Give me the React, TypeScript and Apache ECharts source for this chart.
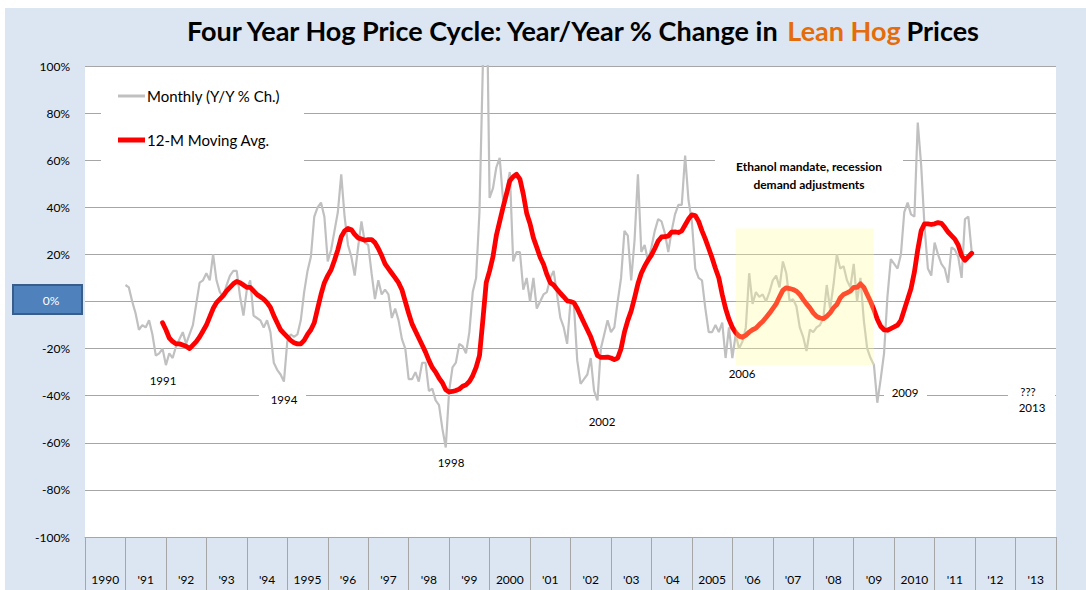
import React, { useEffect, useRef } from "react";
import * as echarts from "echarts";

// Category (year) labels along the bottom axis
const yearLabels = [
  "1990", "'91", "'92", "'93", "'94", "1995", "'96", "'97", "'98", "'99",
  "2000", "'01", "'02", "'03", "'04", "2005", "'06", "'07", "'08", "'09",
  "2010", "'11", "'12", "'13",
];
const firstYear = 1990;

// Monthly Y/Y % change in lean hog prices, Jan 1991 .. Dec 2011
const monthlyStart = "1991-01";
const monthlyYoY = [
  7, 6, 0, -5, -12, -10, -11, -8, -14, -23, -22, -20, // 1991
  -27, -22, -24, -19, -16, -13, -18, -14, -10, -1, 8, 9, // 1992
  12, 9, 20, 9, 4, 2, 7, 11, 13, 13, 2, -6, // 1993
  5, 9, -6, -7, -8, -11, -8, -13, -26, -29, -31, -34, // 1994
  -17, -14, -15, -14, -8, 4, 13, 19, 36, 40, 42, 36, // 1995
  17, 22, 30, 38, 54, 36, 24, 19, 11, 23, 34, 25, // 1996
  24, 12, 1, 9, 3, 5, 3, -7, -3, -8, -16, -20, // 1997
  -33, -33, -30, -34, -26, -26, -38, -37, -42, -44, -54, -62, // 1998
  -38, -28, -26, -18, -19, -22, -13, 4, 10, 38, 100, 150, // 1999
  44, 48, 57, 61, 43, 47, 55, 17, 21, 21, 5, 10, // 2000
  0, 10, -3, 0, 3, 4, 10, 13, 3, -7, -11, -18, // 2001
  0, -1, -25, -35, -33, -31, -24, -38, -42, -20, -14, -8, // 2002
  -13, -11, 0, 10, 30, 28, 9, 26, 54, 21, 24, 17, // 2003
  23, 30, 35, 34, 29, 21, 30, 37, 41, 41, 62, 43, // 2004
  34, 14, 10, 9, -3, -13, -13, -10, -13, -9, -24, -11, // 2005
  -24, -14, -20, -17, -11, 12, -1, 4, 2, 3, 0, 4, // 2006
  9, 11, 6, 17, 12, 0, 1, -2, -11, -15, -21, -12, // 2007
  -13, -11, -10, -7, 7, -3, 7, 20, 14, 15, 9, 6, // 2008
  16, 0, 10, -8, -20, -24, -27, -43, -33, -22, 2, 18, // 2009
  16, 14, 20, 38, 42, 37, 36, 76, 58, 32, 14, 11, // 2010
  25, 20, 16, 14, 8, 23, 22, 19, 10, 35, 36, 21, // 2011
];

// 12-month moving average, Dec 1991 .. Dec 2011
const movingAvgStart = "1991-12";
const movingAvg12 = [
  -9, // Dec 1991
  -12, -15.5, -17, -18, -18, -18.5, -19, -20, -18.5, -17, -15, -12.5, // 1992
  -10, -6.5, -3, -0.5, 1, 2.5, 4.5, 6, 7.5, 8.5, 8, 7, // 1993
  6, 6, 4.5, 3, 2, 1, -0.5, -2.5, -6, -9, -12, -13.5, // 1994
  -15, -16.5, -17.5, -18, -18, -16.5, -14, -12, -9, -3, 3, 8, // 1995
  11, 13.5, 17.5, 22, 27.5, 30, 31, 30.5, 28.5, 27, 26.5, 26, // 1996
  26.3, 26.3, 25, 22.5, 19.5, 16, 14, 12, 10, 8, 5, 0, // 1997
  -5, -9.5, -12.5, -15.5, -18.5, -21.5, -25, -28, -30, -32.5, -34.5, -37.5, // 1998
  -38.4, -38.2, -37.8, -37.2, -36, -35.4, -34, -31.5, -28, -23, -8, 8, // 1999
  13, 19, 28, 34, 40, 45.6, 51.3, 53, 54, 52, 45.6, 37.5, // 2000
  33, 27, 23, 18.8, 15.8, 11.5, 8, 7, 5.2, 3.5, 2, 0.3, // 2001
  0, -0.5, -3, -6, -9, -12, -15, -19, -23, -23.7, -23.7, -23.6, // 2002
  -24, -24.7, -24, -20, -13, -8, -4, 1.5, 7.5, 12, 15, 17.5, // 2003
  19.7, 22.5, 25.7, 27.4, 27.6, 27.8, 29.5, 29.6, 29.3, 30, 32.5, 35, // 2004
  36.8, 36.5, 34, 30, 26.5, 22.5, 18.5, 14, 10, 3, -3, -7.5, // 2005
  -11, -13.2, -14.7, -15.2, -14.3, -13, -12, -11.3, -9.8, -8.5, -6.8, -5, // 2006
  -3, -1, 2, 4.8, 5.8, 5.5, 5.1, 4.4, 3, 0.9, -1, -2.7, // 2007
  -4.8, -6.3, -7, -7.3, -6.3, -4.8, -2.7, -1.3, 1.5, 3, 3.7, 4.4, // 2008
  6, 6, 7.5, 6, 3, 0, -3.5, -7.5, -10.5, -12, -12.2, -11.5, // 2009
  -10.8, -10, -8, -3.5, 1, 5.5, 12.5, 22, 30, 33, 33, 32.7, // 2010
  33, 33.5, 33.2, 31.5, 29.5, 28, 26.5, 24, 19.5, 17.5, 19, 20.5, // 2011
];

// Highlighted period (ethanol mandate / recession)
const highlightFrom = "2006-02";
const highlightTo = "2009-07";
const highlightTop = 31;
const highlightBottom = -27;

const seriesNames = ["Monthly (Y/Y % Ch.)", "12-M Moving Avg."];
const seriesColors = ["#C0C0C0", "#FF0000"];
const seriesWidths = [2.2, 4.8];
const titleMain = "Four Year Hog Price Cycle: Year/Year % Change in";
const titleAccent = "Lean Hog";
const titleEnd = "Prices";

// Month axis (boundary points), Jan 1990 .. Jan 2014
const months: string[] = [];
for (let i = 0; i < yearLabels.length; i++) {
  for (let mo = 1; mo <= 12; mo++) {
    months.push(`${firstYear + i}-${String(mo).padStart(2, "0")}`);
  }
}
months.push(`${firstYear + yearLabels.length}-01`);

function pad(start: string, values: number[]) {
  const idx = months.indexOf(start);
  const out: (number | null)[] = new Array(months.length).fill(null);
  values.forEach((v, i) => {
    out[idx + i] = v;
  });
  return out;
}

const FONT = "Lato, 'Open Sans', sans-serif";

export default function App() {
  const ref = useRef<HTMLDivElement>(null);

  useEffect(() => {
    document.body.style.margin = "0";
    if (!ref.current) return;
    const chart = echarts.init(ref.current, undefined, { renderer: "svg" });

    const annot = (text: string, x: number, y: number, bold = false, size = 11.5) => ({
      type: "text",
      z: 6,
      x,
      y,
      style: {
        text,
        fill: "#000",
        font: `${bold ? "bold " : ""}${size}px ${FONT}`,
        textAlign: "center",
        textVerticalAlign: "middle",
      },
    });
    const whiteBox = (x: number, y: number, w: number, h: number) => ({
      type: "rect",
      z: 1,
      shape: { x, y, width: w, height: h },
      style: { fill: "#ffffff" },
    });
    const legendItem = (i: number, y: number) => [
      {
        type: "line",
        z: 6,
        shape: { x1: 118, y1: y, x2: 145, y2: y },
        style: { stroke: seriesColors[i], lineWidth: i === 0 ? 3 : 5 },
      },
      {
        type: "text",
        z: 6,
        x: 147,
        y,
        style: {
          text: seriesNames[i],
          fill: "#000",
          font: `15px ${FONT}`,
          textAlign: "left",
          textVerticalAlign: "middle",
        },
      },
    ];

    chart.setOption({
      animation: false,
      backgroundColor: "transparent",
      textStyle: { fontFamily: FONT },
      title: {
        left: 187,
        top: 17,
        padding: 0,
        text: `{a|${titleMain}} {b|${titleAccent}} {a|${titleEnd}}`,
        textStyle: {
          fontSize: 24,
          fontWeight: "bold",
          color: "#000",
          fontFamily: FONT,
          rich: {
            a: { fontSize: 27, fontWeight: "bold", color: "#000", fontFamily: FONT },
            b: { fontSize: 27, fontWeight: "bold", color: "#E46C0A", fontFamily: FONT },
          },
        },
      },
      grid: {
        left: 85,
        right: 30,
        top: 66,
        bottom: 53,
        show: true,
        backgroundColor: "#ffffff",
        borderWidth: 0,
      },
      xAxis: [
        {
          type: "category",
          data: yearLabels,
          position: "bottom",
          axisLine: { show: true, onZero: false, lineStyle: { color: "#A6A6A6" } },
          axisTick: { show: true, length: 53, interval: 0, lineStyle: { color: "#A6A6A6" } },
          axisLabel: { interval: 0, margin: 36, fontSize: 12, color: "#000", fontFamily: FONT },
          splitLine: { show: false },
        },
        {
          type: "category",
          data: months,
          boundaryGap: false,
          show: false,
          axisLine: { onZero: false },
        },
      ],
      yAxis: {
        type: "value",
        min: -100,
        max: 100,
        interval: 20,
        axisLine: { show: false },
        axisTick: { show: false },
        axisLabel: {
          margin: 15,
          fontSize: 12,
          color: "#000",
          fontFamily: FONT,
          formatter: (v: number) => (v === 0 ? "" : `${v}%`),
        },
        splitLine: { lineStyle: { color: "#A6A6A6", width: 1 } },
      },
      series: [
        {
          name: seriesNames[0],
          type: "line",
          xAxisIndex: 1,
          data: pad(monthlyStart, monthlyYoY),
          showSymbol: false,
          symbol: "none",
          lineStyle: { color: seriesColors[0], width: seriesWidths[0] },
          itemStyle: { color: seriesColors[0] },
          z: 2,
        },
        {
          name: seriesNames[1],
          type: "line",
          xAxisIndex: 1,
          data: pad(movingAvgStart, movingAvg12),
          showSymbol: false,
          symbol: "none",
          lineStyle: { color: seriesColors[1], width: seriesWidths[1], join: "round", cap: "round" },
          itemStyle: { color: seriesColors[1] },
          z: 3,
          markArea: {
            silent: true,
            z: 10,
            itemStyle: { color: "rgba(255,255,150,0.3)" },
            data: [
              [
                { xAxis: highlightFrom, yAxis: highlightTop },
                { xAxis: highlightTo, yAxis: highlightBottom },
              ],
            ],
          },
        },
      ],
      graphic: [
        whiteBox(101, 71, 203, 92),
        whiteBox(715, 149, 188, 48),
        whiteBox(259, 388, 47, 22),
        whiteBox(884, 381, 43, 22),
        whiteBox(1008, 380, 47, 36),
        ...legendItem(0, 96),
        ...legendItem(1, 140),
        {
          type: "rect",
          z: 6,
          shape: { x: 13, y: 285, width: 69, height: 29 },
          style: { fill: "#4F81BD", stroke: "#385D8A", lineWidth: 2 },
        },
        {
          type: "text",
          z: 7,
          x: 51,
          y: 300,
          style: {
            text: "0%",
            fill: "#fff",
            font: `12px ${FONT}`,
            textAlign: "center",
            textVerticalAlign: "middle",
          },
        },
        annot("Ethanol mandate, recession", 809, 166, true, 12),
        annot("demand adjustments", 809, 184, true, 12),
        annot("1991", 163, 380),
        annot("1994", 284, 399),
        annot("1998", 451, 462),
        annot("2002", 602, 421),
        annot("2006", 742, 373),
        annot("2009", 905, 392),
        annot("???", 1028, 391),
        annot("2013", 1032, 407),
      ],
    });

    return () => chart.dispose();
  }, []);

  return (
    <div style={{ position: "relative", width: 1086, height: 590, background: "#fff", overflow: "hidden" }}>
      <div
        style={{
          position: "absolute",
          left: 5,
          top: 8,
          right: 0,
          bottom: 0,
          background: "#DCE6F2",
        }}
      />
      <div ref={ref} style={{ position: "absolute", left: 0, top: 0, width: 1086, height: 590 }} />
    </div>
  );
}
